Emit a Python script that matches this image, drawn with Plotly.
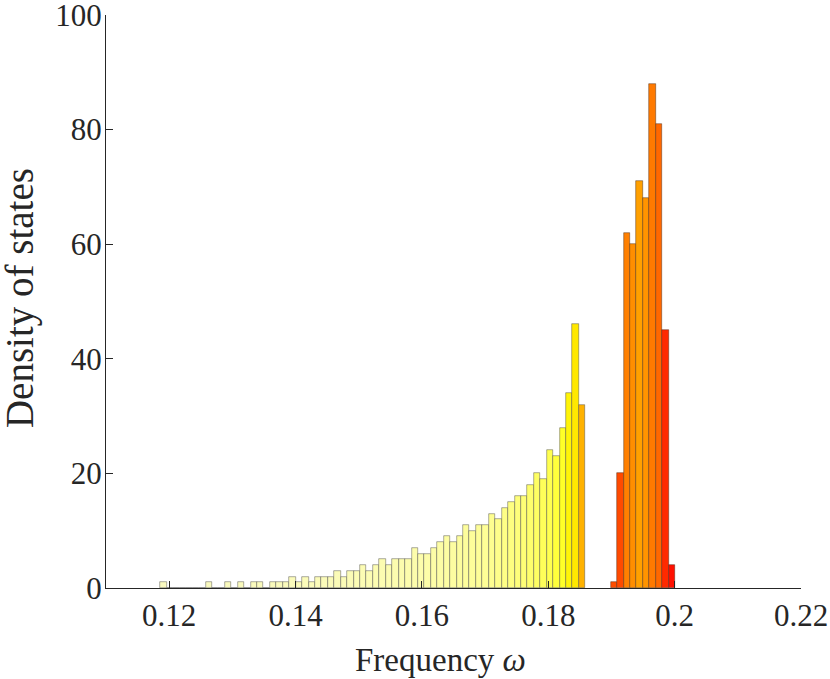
import numpy as np
import plotly.graph_objects as go

# lower band (yellow), 66 bins
yellow_start = 0.11862
yellow_width = 0.0010188
yellow_counts = [1, 0, 0, 0, 0, 0, 0, 1, 0, 0, 1, 0, 1, 0, 1, 1, 0, 1, 1, 1,
                 2, 1, 2, 1, 2, 2, 2, 3, 2, 3, 3, 4, 3, 4, 5, 4, 5, 5, 5, 7,
                 6, 6, 7, 8, 9, 8, 9, 11, 10, 11, 11, 13, 12, 14, 15, 16, 16, 18, 20, 19,
                 24, 23, 28, 34, 46, 32]

# upper band (orange/red), 10 bins
orange_start = 0.18986
orange_width = 0.001023
orange_counts = [1, 20, 62, 60, 71, 68, 88, 81, 45, 4]

x_ticks = [0.12, 0.14, 0.16, 0.18, 0.2, 0.22]
x_ticktext = ["0.12", "0.14", "0.16", "0.18", "0.2", "0.22"]
y_ticks = [0, 20, 40, 60, 80, 100]


def centers(start, width, n):
    return start + width * (np.arange(n) + 0.5)


# colour of each bar (style only)
n_y = len(yellow_counts)
idx = np.arange(n_y)
rg = np.interp(idx, [0, 40, 60, 65], [249, 253, 255, 255])
bl = np.interp(idx, [0, 25, 40, 50, 56, 60, 62, 63, 64, 65],
               [192, 186, 172, 150, 118, 80, 40, 8, 0, 0])
gr = rg.copy()
gr[63] = 244
gr[64] = 232
gr[65] = 178
yellow_colors = [f"rgb({int(r)},{int(g)},{int(b)})" for r, g, b in zip(rg, gr, bl)]

orange_green = [78, 74, 128, 142, 160, 148, 122, 104, 42, 16]
orange_colors = [f"rgb(255,{g},0)" for g in orange_green]

fig = go.Figure()
fig.add_trace(go.Bar(
    x=centers(yellow_start, yellow_width, n_y),
    y=yellow_counts,
    width=yellow_width,
    marker=dict(color=yellow_colors, line=dict(color="rgba(70,70,70,0.75)", width=0.6)),
    showlegend=False,
))
fig.add_trace(go.Bar(
    x=centers(orange_start, orange_width, len(orange_counts)),
    y=orange_counts,
    width=orange_width,
    marker=dict(color=orange_colors, line=dict(color="rgba(70,40,20,0.75)", width=0.6)),
    showlegend=False,
))

font_family = "Liberation Serif"
axis_style = dict(
    ticks="inside", ticklen=7, tickcolor="#262626", tickwidth=1,
    showline=True, linecolor="#262626", linewidth=1,
    showgrid=False, zeroline=False, automargin=False,
    tickfont=dict(size=31), ticklabeloverflow="allow",
)
fig.update_layout(
    width=830, height=679,
    margin=dict(l=106, r=29, t=15, b=91),
    paper_bgcolor="white", plot_bgcolor="white",
    bargap=0,
    font=dict(family=font_family, color="#262626", size=31),
    xaxis=dict(range=[0.11, 0.22], tickvals=x_ticks, ticktext=x_ticktext,
               ticklabelstandoff=0, **axis_style),
    yaxis=dict(range=[0, 100], tickvals=y_ticks, ticklabelstandoff=-3, **axis_style),
    annotations=[
        dict(text="Frequency <i>ω</i>", xref="paper", yref="paper",
             x=0.4806, y=-0.1257, xanchor="center", yanchor="middle",
             showarrow=False, font=dict(size=33)),
        dict(text="Density of states", xref="paper", yref="paper",
             x=-0.1237, y=0.506, xanchor="center", yanchor="middle",
             textangle=-90, showarrow=False, font=dict(size=39)),
    ],
)

fig.write_html("out.html", config={"displayModeBar": False},
               post_script="document.body.style.margin='0';document.body.style.padding='0';")
